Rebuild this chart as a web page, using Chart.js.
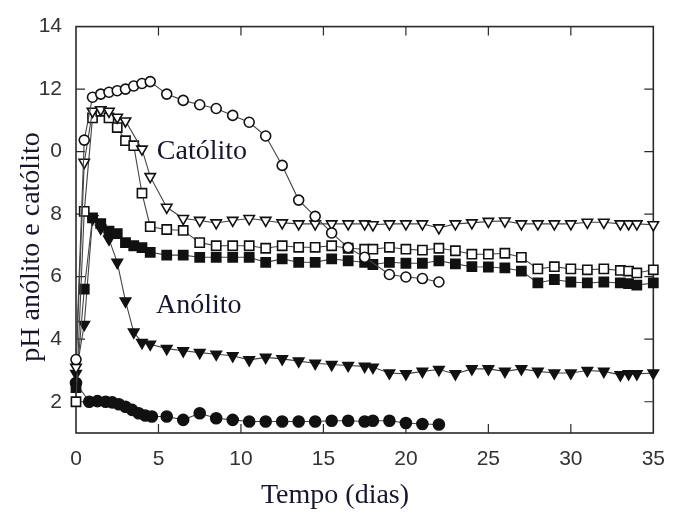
<!DOCTYPE html>
<html lang="pt">
<head>
<meta charset="UTF-8" />
<title>pH anólito e católito</title>
<style>
  body { margin: 0; background: #fff; }
  #chartBox { width: 679px; height: 517px; }
</style>
</head>
<body>
<div id="chartBox"><canvas id="phChart" width="679" height="517"></canvas></div>

<script src="https://cdn.jsdelivr.net/npm/chart.js"></script>
<script>
  // Axis ticks
  const xTicks = [0, 5, 10, 15, 20, 25, 30, 35];
  const yTicks = [2, 4, 6, 8, 10, 12, 14];
  const yTickLabels = ['2', '4', '6', '8', '0', '12', '14']; // "1" of 10 is cut off in the original

  // Católito - open circles
  const tOpenCircle = [0, 0.5, 1, 1.5, 2, 2.5, 3, 3.5, 4, 4.5, 5.5, 6.5, 7.5, 8.5, 9.5, 10.5, 11.5, 12.5, 13.5, 14.5, 15.5, 16.5, 17.5, 19, 20, 21, 22];
  const pHOpenCircle = [3.35, 10.37, 11.74, 11.84, 11.9, 11.95, 12.0, 12.1, 12.18, 12.24, 11.84, 11.64, 11.5, 11.38, 11.16, 10.94, 10.5, 9.56, 8.45, 7.93, 7.4, 6.93, 6.62, 6.07, 5.99, 5.94, 5.83];

  // Católito - open triangles
  const tOpenTri = [0, 0.5, 1, 1.5, 2, 2.5, 3, 4, 4.5, 5.5, 6.5, 7.5, 8.5, 9.5, 10.5, 11.5, 12.5, 13.5, 14.5, 15.5, 16.5, 17.5, 18, 19, 20, 21, 22, 23, 24, 25, 26, 27, 28, 29, 30, 31, 32, 33, 33.5, 34, 35];
  const pHOpenTri = [3.1, 9.66, 11.29, 11.34, 11.29, 11.1, 10.98, 10.08, 9.2, 8.22, 7.86, 7.8, 7.72, 7.8, 7.86, 7.8, 7.72, 7.69, 7.69, 7.69, 7.69, 7.69, 7.66, 7.69, 7.69, 7.69, 7.56, 7.69, 7.72, 7.77, 7.78, 7.69, 7.69, 7.69, 7.69, 7.74, 7.74, 7.69, 7.69, 7.69, 7.66];

  // Católito - open squares
  const tOpenSq = [0, 0.5, 1, 1.5, 2, 2.5, 3, 3.5, 4, 4.5, 5.5, 6.5, 7.5, 8.5, 9.5, 10.5, 11.5, 12.5, 13.5, 14.5, 15.5, 16.5, 17.5, 18, 19, 20, 21, 22, 23, 24, 25, 26, 27, 28, 29, 30, 31, 32, 33, 33.5, 34, 35];
  const pHOpenSq = [2.0, 8.09, 11.08, 11.29, 11.08, 10.77, 10.35, 10.19, 8.67, 7.6, 7.51, 7.48, 7.09, 6.99, 6.99, 6.99, 6.91, 6.99, 6.94, 6.94, 6.99, 6.91, 6.88, 6.88, 6.94, 6.88, 6.85, 6.91, 6.83, 6.72, 6.72, 6.75, 6.62, 6.25, 6.32, 6.25, 6.22, 6.25, 6.2, 6.18, 6.12, 6.22];

  // Anólito - filled squares
  const tFilledSq = [0, 0.5, 1, 1.5, 2, 2.5, 3, 3.5, 4, 4.5, 5.5, 6.5, 7.5, 8.5, 9.5, 10.5, 11.5, 12.5, 13.5, 14.5, 15.5, 16.5, 17.5, 18, 19, 20, 21, 22, 23, 24, 25, 26, 27, 28, 29, 30, 31, 32, 33, 33.5, 34, 35];
  const pHFilledSq = [2.45, 5.6, 7.88, 7.7, 7.46, 7.38, 7.09, 6.99, 6.93, 6.78, 6.69, 6.69, 6.62, 6.62, 6.62, 6.62, 6.46, 6.57, 6.46, 6.46, 6.57, 6.51, 6.46, 6.39, 6.46, 6.43, 6.43, 6.51, 6.41, 6.32, 6.31, 6.28, 6.18, 5.8, 5.91, 5.83, 5.8, 5.83, 5.8, 5.78, 5.73, 5.8];

  // Anólito - filled triangles
  const tFilledTri = [0, 0.5, 1, 1.5, 2, 2.5, 3, 3.5, 4, 4.5, 5.5, 6.5, 7.5, 8.5, 9.5, 10.5, 11.5, 12.5, 13.5, 14.5, 15.5, 16.5, 17.5, 18, 19, 20, 21, 22, 23, 24, 25, 26, 27, 28, 29, 30, 31, 32, 33, 33.5, 34, 35];
  const pHFilledTri = [2.9, 4.47, 7.85, 7.55, 7.2, 6.46, 5.22, 4.23, 3.89, 3.84, 3.7, 3.63, 3.57, 3.52, 3.47, 3.34, 3.42, 3.37, 3.3, 3.23, 3.19, 3.16, 3.13, 3.1, 2.92, 2.89, 2.97, 3.03, 2.89, 3.05, 3.05, 2.97, 3.05, 2.97, 2.92, 2.92, 3.0, 2.97, 2.86, 2.89, 2.89, 2.92];

  // Anólito - filled circles
  const tFilledCircle = [0, 0.8, 1.3, 1.8, 2.2, 2.6, 3, 3.4, 3.8, 4.2, 4.6, 5.5, 6.5, 7.5, 8.5, 9.5, 10.5, 11.5, 12.5, 13.5, 14.5, 15.5, 16.5, 17.5, 18, 19, 20, 21, 22];
  const pHFilledCircle = [2.6, 2.0, 2.02, 2.0, 1.98, 1.92, 1.84, 1.74, 1.63, 1.56, 1.53, 1.53, 1.42, 1.63, 1.47, 1.42, 1.37, 1.37, 1.37, 1.37, 1.37, 1.39, 1.39, 1.37, 1.39, 1.39, 1.32, 1.29, 1.27];

  // Text labels inside the plot (data coordinates)
  const notes = [
    { text: 'Católito', x: 4.9, y: 10.0 },
    { text: 'Anólito', x: 4.85, y: 5.08 }
  ];

  const textColor = '#16162e';
  const serif = '"Liberation Serif", "Times New Roman", serif';

  function pts(ts, vs) {
    return ts.map((t, i) => ({ x: t, y: vs[i] }));
  }

  function series(ts, vs, style, filled, radius, rotation) {
    return {
      data: pts(ts, vs),
      showLine: true,
      borderColor: '#444',
      borderWidth: 1.1,
      pointStyle: style,
      pointRadius: radius,
      pointRotation: rotation || 0,
      pointBorderColor: '#111',
      pointBorderWidth: 1.6,
      pointBackgroundColor: filled ? '#111' : '#fff',
      clip: false
    };
  }

  // Frame with inward ticks, titles and notes
  const framePlugin = {
    id: 'frame',
    beforeDatasetsDraw(chart) {
      const { ctx, chartArea: a, scales } = chart;
      const len = 9;
      ctx.save();
      ctx.strokeStyle = '#2a2a2a';
      ctx.lineWidth = 1.6;
      ctx.strokeRect(a.left, a.top, a.right - a.left, a.bottom - a.top);
      ctx.lineWidth = 1.2;
      ctx.beginPath();
      xTicks.forEach(v => {
        if (v === xTicks[0] || v === xTicks[xTicks.length - 1]) return;
        const px = scales.x.getPixelForValue(v);
        ctx.moveTo(px, a.bottom); ctx.lineTo(px, a.bottom - len);
        ctx.moveTo(px, a.top); ctx.lineTo(px, a.top + len);
      });
      yTicks.forEach(v => {
        if (v === 14) return;
        const py = scales.y.getPixelForValue(v);
        ctx.moveTo(a.left, py); ctx.lineTo(a.left + len, py);
        ctx.moveTo(a.right, py); ctx.lineTo(a.right - len, py);
      });
      ctx.stroke();
      ctx.restore();
    },
    afterDraw(chart) {
      const { ctx, scales } = chart;
      ctx.save();
      ctx.fillStyle = textColor;
      ctx.font = '28px ' + serif;
      ctx.textBaseline = 'middle';
      ctx.textAlign = 'left';
      notes.forEach(n => {
        ctx.fillText(n.text, scales.x.getPixelForValue(n.x), scales.y.getPixelForValue(n.y));
      });
      ctx.textAlign = 'center';
      ctx.fillText('Tempo (dias)', 335, 496);
      ctx.translate(32, 247);
      ctx.rotate(-Math.PI / 2);
      ctx.fillText('pH anólito e católito', 0, 0);
      ctx.restore();
    }
  };

  const tickFont = { family: '"Liberation Sans", Arial, sans-serif', size: 21 };

  new Chart(document.getElementById('phChart'), {
    type: 'scatter',
    data: {
      datasets: [
        series(tOpenCircle, pHOpenCircle, 'circle', false, 5),
        series(tOpenTri, pHOpenTri, 'triangle', false, 6, 180),
        series(tOpenSq, pHOpenSq, 'rect', false, 6.5),
        series(tFilledSq, pHFilledSq, 'rect', true, 6.5),
        series(tFilledTri, pHFilledTri, 'triangle', true, 6, 180),
        series(tFilledCircle, pHFilledCircle, 'circle', true, 5.5)
      ]
    },
    options: {
      responsive: false,
      animation: false,
      layout: { padding: { top: 20, right: 16, left: 0, bottom: 0 } },
      plugins: {
        legend: { display: false },
        tooltip: { enabled: false }
      },
      scales: {
        x: {
          type: 'linear',
          min: 0,
          max: 35,
          afterFit: s => { s.height = 84; },
          afterBuildTicks: s => { s.ticks = xTicks.map(v => ({ value: v })); },
          grid: { display: false, drawTicks: false },
          border: { display: false },
          ticks: { padding: 14, color: '#333', font: tickFont, maxRotation: 0, autoSkip: false }
        },
        y: {
          type: 'linear',
          min: 1,
          max: 14,
          afterFit: s => { s.width = 76; },
          afterBuildTicks: s => { s.ticks = yTicks.map(v => ({ value: v })); },
          grid: { display: false, drawTicks: false },
          border: { display: false },
          ticks: {
            padding: 14,
            color: '#333',
            font: tickFont,
            autoSkip: false,
            callback: v => yTickLabels[yTicks.indexOf(v)]
          }
        }
      }
    },
    plugins: [framePlugin]
  });
</script>
</body>
</html>
